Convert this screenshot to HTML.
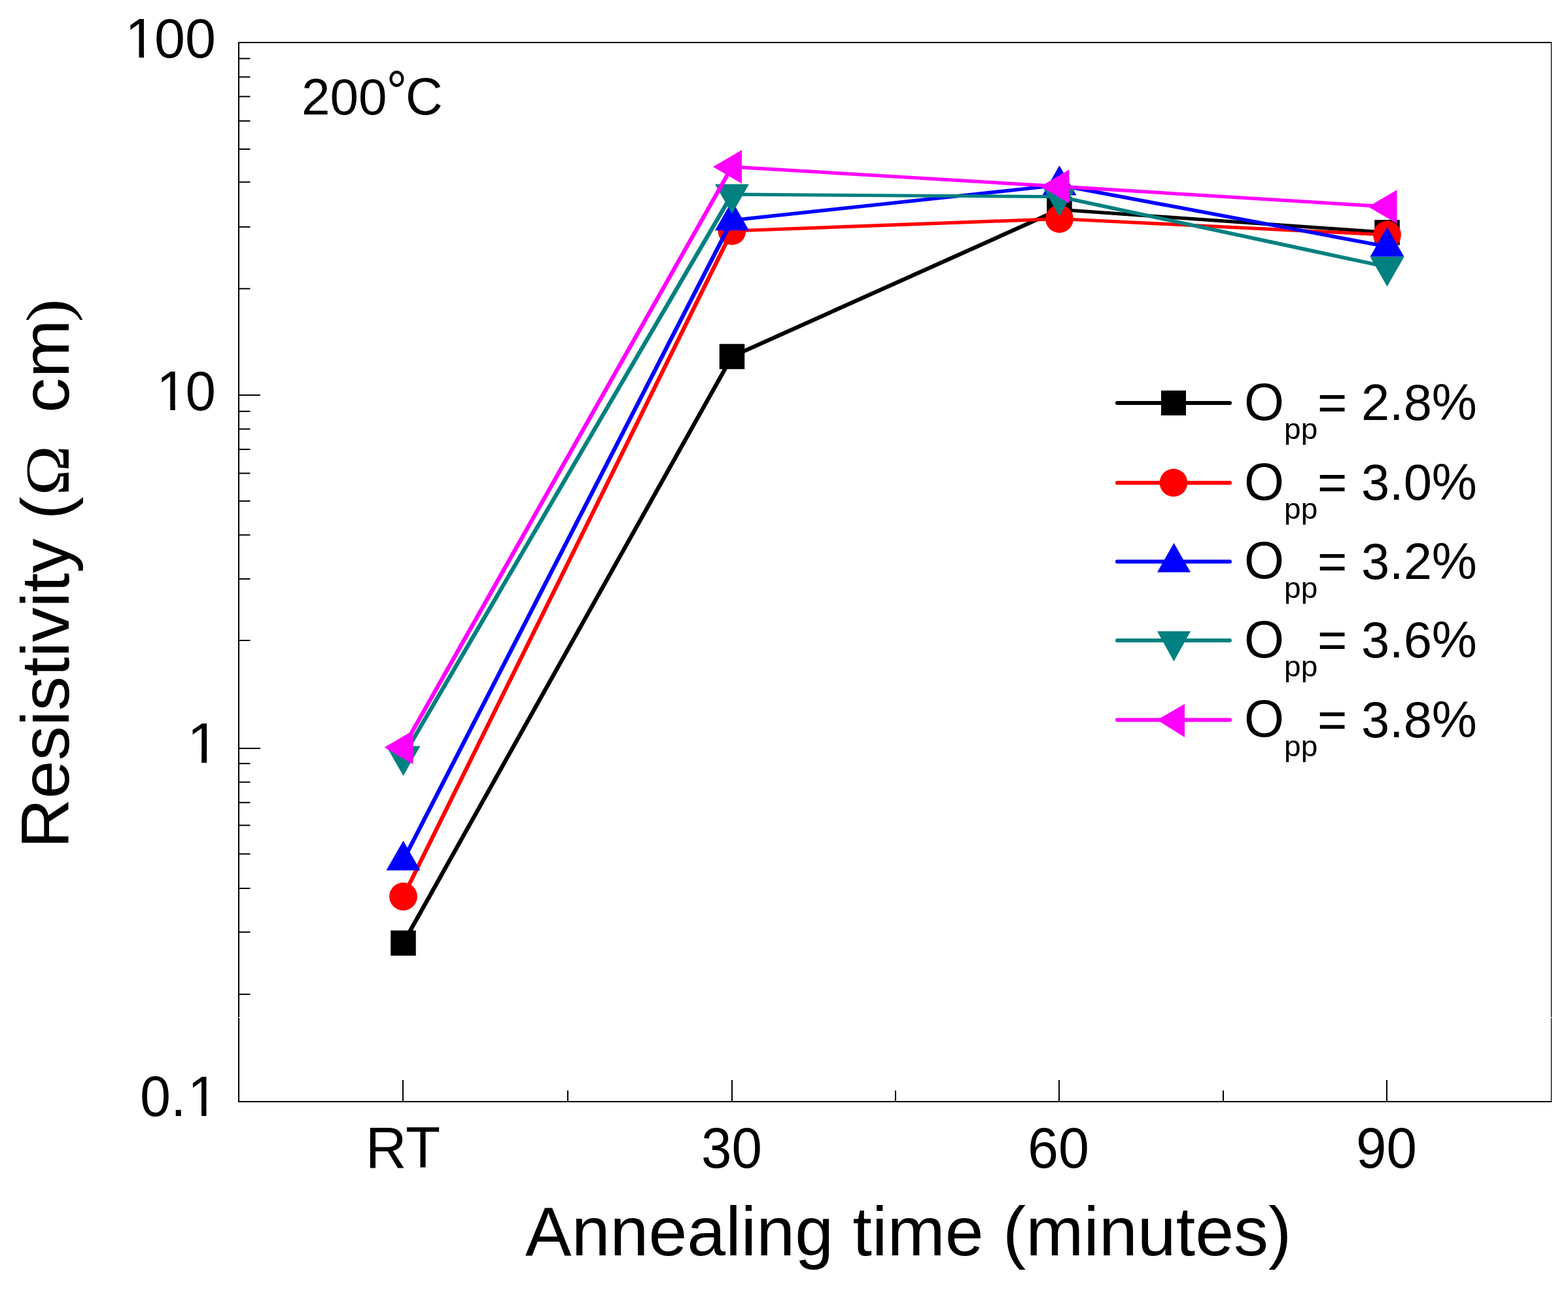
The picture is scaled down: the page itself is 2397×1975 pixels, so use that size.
<!DOCTYPE html>
<html><head><meta charset="utf-8"><title>Resistivity vs annealing time</title>
<style>
html,body{margin:0;padding:0;background:#fff;}
body{width:2397px;height:1975px;overflow:hidden;}
svg{display:block;}
text{fill:#000;}
</style></head>
<body>
<svg width="2397" height="1975" viewBox="0 0 2397 1975">
<rect width="2397" height="1975" fill="#fff"/>
<line x1="364" y1="65" x2="2371" y2="65" stroke="#000" stroke-width="2"/>
<line x1="364" y1="1684" x2="2371" y2="1684" stroke="#000" stroke-width="2"/>
<line x1="365" y1="64" x2="365" y2="1685" stroke="#000" stroke-width="2"/>
<line x1="2371.5" y1="64" x2="2371.5" y2="1685" stroke="#000" stroke-width="1.3"/>
<line x1="365" y1="603.90" x2="398" y2="603.90" stroke="#000" stroke-width="2"/>
<line x1="365" y1="1143.90" x2="398" y2="1143.90" stroke="#000" stroke-width="2"/>
<line x1="365" y1="89.50" x2="382.5" y2="89.50" stroke="#000" stroke-width="2"/>
<line x1="365" y1="117.60" x2="382.5" y2="117.60" stroke="#000" stroke-width="2"/>
<line x1="365" y1="147.60" x2="382.5" y2="147.60" stroke="#000" stroke-width="2"/>
<line x1="365" y1="184.90" x2="382.5" y2="184.90" stroke="#000" stroke-width="2"/>
<line x1="365" y1="228.00" x2="382.5" y2="228.00" stroke="#000" stroke-width="2"/>
<line x1="365" y1="278.40" x2="382.5" y2="278.40" stroke="#000" stroke-width="2"/>
<line x1="365" y1="346.90" x2="382.5" y2="346.90" stroke="#000" stroke-width="2"/>
<line x1="365" y1="441.30" x2="382.5" y2="441.30" stroke="#000" stroke-width="2"/>
<line x1="365" y1="628.80" x2="382.5" y2="628.80" stroke="#000" stroke-width="2"/>
<line x1="365" y1="655.80" x2="382.5" y2="655.80" stroke="#000" stroke-width="2"/>
<line x1="365" y1="686.90" x2="382.5" y2="686.90" stroke="#000" stroke-width="2"/>
<line x1="365" y1="723.50" x2="382.5" y2="723.50" stroke="#000" stroke-width="2"/>
<line x1="365" y1="765.90" x2="382.5" y2="765.90" stroke="#000" stroke-width="2"/>
<line x1="365" y1="817.70" x2="382.5" y2="817.70" stroke="#000" stroke-width="2"/>
<line x1="365" y1="885.00" x2="382.5" y2="885.00" stroke="#000" stroke-width="2"/>
<line x1="365" y1="979.00" x2="382.5" y2="979.00" stroke="#000" stroke-width="2"/>
<line x1="365" y1="1167.20" x2="382.5" y2="1167.20" stroke="#000" stroke-width="2"/>
<line x1="365" y1="1195.60" x2="382.5" y2="1195.60" stroke="#000" stroke-width="2"/>
<line x1="365" y1="1226.80" x2="382.5" y2="1226.80" stroke="#000" stroke-width="2"/>
<line x1="365" y1="1261.60" x2="382.5" y2="1261.60" stroke="#000" stroke-width="2"/>
<line x1="365" y1="1305.40" x2="382.5" y2="1305.40" stroke="#000" stroke-width="2"/>
<line x1="365" y1="1358.00" x2="382.5" y2="1358.00" stroke="#000" stroke-width="2"/>
<line x1="365" y1="1424.80" x2="382.5" y2="1424.80" stroke="#000" stroke-width="2"/>
<line x1="365" y1="1519.90" x2="382.5" y2="1519.90" stroke="#000" stroke-width="2"/>
<line x1="365" y1="65" x2="398" y2="65" stroke="#000" stroke-width="2"/>
<line x1="616" y1="1684" x2="616" y2="1651" stroke="#000" stroke-width="2"/>
<line x1="1119" y1="1684" x2="1119" y2="1651" stroke="#000" stroke-width="2"/>
<line x1="1619" y1="1684" x2="1619" y2="1651" stroke="#000" stroke-width="2"/>
<line x1="2120" y1="1684" x2="2120" y2="1651" stroke="#000" stroke-width="2"/>
<line x1="868" y1="1684" x2="868" y2="1667" stroke="#000" stroke-width="2"/>
<line x1="1369" y1="1684" x2="1369" y2="1667" stroke="#000" stroke-width="2"/>
<line x1="1870" y1="1684" x2="1870" y2="1667" stroke="#000" stroke-width="2"/>
<g transform="matrix(1.0000 0 0 1.0167 189.00 87.98)"><clipPath id="c1_1"><path clip-rule="evenodd" d="M-500,-500H2500V500H-500Z M6.395,-7.913 L22.318,-7.913 L22.318,-6.313 L23.518,-6.313 L23.518,1.600 L6.395,1.600Z M32.186,-7.913 L47.201,-7.913 L47.201,1.600 L30.986,1.600 L30.986,-6.313 L32.186,-6.313Z"/></clipPath><text x="0" y="0" font-size="84.5" clip-path="url(#c1_1)" style="font-family:'Liberation Sans', Arial, sans-serif"><tspan x="2.269">1</tspan><tspan x="46.995">0</tspan><tspan x="93.990">0</tspan></text></g>
<g transform="matrix(0.9877 0 0 1.0167 237.12 626.98)"><clipPath id="c1_2"><path clip-rule="evenodd" d="M-500,-500H2500V500H-500Z M6.395,-7.913 L22.318,-7.913 L22.318,-6.313 L23.518,-6.313 L23.518,1.600 L6.395,1.600Z M32.186,-7.913 L47.201,-7.913 L47.201,1.600 L30.986,1.600 L30.986,-6.313 L32.186,-6.313Z"/></clipPath><text x="0" y="0" font-size="84.5" clip-path="url(#c1_2)" style="font-family:'Liberation Sans', Arial, sans-serif"><tspan x="2.269">1</tspan><tspan x="46.995">0</tspan></text></g>
<g transform="matrix(1.0476 0 0 1.0339 283.52 1166.00)"><clipPath id="c1_3"><path clip-rule="evenodd" d="M-500,-500H2500V500H-500Z M6.395,-7.913 L22.318,-7.913 L22.318,-6.313 L23.518,-6.313 L23.518,1.600 L6.395,1.600Z M32.186,-7.913 L47.201,-7.913 L47.201,1.600 L30.986,1.600 L30.986,-6.313 L32.186,-6.313Z"/></clipPath><text x="0" y="0" font-size="84.5" clip-path="url(#c1_3)" style="font-family:'Liberation Sans', Arial, sans-serif"><tspan x="2.269">1</tspan></text></g>
<g transform="matrix(1.0000 0 0 1.0333 214.00 1705.97)"><clipPath id="c1_4"><path clip-rule="evenodd" d="M-500,-500H2500V500H-500Z M76.867,-7.913 L92.790,-7.913 L92.790,-6.313 L93.990,-6.313 L93.990,1.600 L76.867,1.600Z M102.658,-7.913 L117.673,-7.913 L117.673,1.600 L101.458,1.600 L101.458,-6.313 L102.658,-6.313Z"/></clipPath><text x="0" y="0" font-size="84.5" clip-path="url(#c1_4)" style="font-family:'Liberation Sans', Arial, sans-serif"><tspan x="0.000">0</tspan><tspan x="46.995">.</tspan><tspan x="72.741">1</tspan></text></g>
<g transform="matrix(1.0294 0 0 1.0517 558.79 1785.00)"><text x="0" y="0" font-size="84.5" style="font-family:'Liberation Sans', Arial, sans-serif">RT</text></g>
<g transform="matrix(0.9886 0 0 1.0333 1072.03 1784.97)"><text x="0" y="0" font-size="84.5" style="font-family:'Liberation Sans', Arial, sans-serif">30</text></g>
<g transform="matrix(1.0000 0 0 1.0333 1571.00 1784.97)"><text x="0" y="0" font-size="84.5" style="font-family:'Liberation Sans', Arial, sans-serif">60</text></g>
<g transform="matrix(0.9885 0 0 1.0333 2073.05 1784.97)"><text x="0" y="0" font-size="84.5" style="font-family:'Liberation Sans', Arial, sans-serif">90</text></g>
<g transform="matrix(0.9898 0 0 0.9850 803.01 1918.70)"><text x="0" y="0" font-size="107" style="font-family:'Liberation Sans', Arial, sans-serif">Annealing time (minutes)</text></g>
<g transform="rotate(-90) matrix(1.0025 0 0 0.9850 -1297.02 104.90)"><text x="0" y="0" font-size="105" style="font-family:'Liberation Sans', Arial, sans-serif">Resistivity (</text></g>
<g transform="rotate(-90) matrix(0.9809 0 0 0.9143 -757.60 104.90)"><text x="0" y="0" font-size="105" style="font-family:'Liberation Serif', 'Times New Roman', serif">Ω</text></g>
<g transform="rotate(-90) matrix(1.0171 0 0 0.9700 -630.97 104.90)"><text x="0" y="0" font-size="105" style="font-family:'Liberation Sans', Arial, sans-serif">cm</text></g>
<g transform="rotate(-90) matrix(1.0222 0 0 0.9147 -492.47 105.68)"><text x="0" y="0" font-size="105" style="font-family:'Liberation Serif', 'Times New Roman', serif">)</text></g>
<g transform="matrix(1.0164 0 0 1.0000 460.93 175.00)"><text x="0" y="0" font-size="77" style="font-family:'Liberation Sans', Arial, sans-serif">200</text></g>
<g transform="matrix(1.3125 0 0 1.4706 590.75 169.76)"><text x="0" y="0" font-size="60" style="font-family:'Liberation Sans', Arial, sans-serif">&#176;</text></g>
<g transform="matrix(1.0208 0 0 1.0364 619.92 174.96)"><text x="0" y="0" font-size="77" style="font-family:'Liberation Sans', Arial, sans-serif">C</text></g>
<line x1="616.5" y1="1441.6" x2="1119" y2="545" stroke="#000000" stroke-width="6.34"/>
<line x1="1119" y1="545" x2="1619.5" y2="320.3" stroke="#000000" stroke-width="6.18"/>
<line x1="1619.5" y1="320.3" x2="2120.5" y2="355.4" stroke="#000000" stroke-width="5.30"/>
<rect x="597.25" y="1422.35" width="38.5" height="38.5" fill="#000000"/>
<rect x="1099.75" y="525.75" width="38.5" height="38.5" fill="#000000"/>
<rect x="1600.25" y="301.05" width="38.5" height="38.5" fill="#000000"/>
<rect x="2101.25" y="336.15" width="38.5" height="38.5" fill="#000000"/>
<line x1="616.5" y1="1370.4" x2="1119" y2="353" stroke="#FF0000" stroke-width="6.25"/>
<line x1="1119" y1="353" x2="1619.5" y2="334.5" stroke="#FF0000" stroke-width="5.21"/>
<line x1="1619.5" y1="334.5" x2="2120.5" y2="359" stroke="#FF0000" stroke-width="5.24"/>
<circle cx="616.5" cy="1370.4" r="21.4" fill="#FF0000"/>
<circle cx="1119" cy="353" r="21.4" fill="#FF0000"/>
<circle cx="1619.5" cy="334.5" r="21.4" fill="#FF0000"/>
<circle cx="2120.5" cy="359" r="21.4" fill="#FF0000"/>
<line x1="616.5" y1="1315" x2="1119" y2="336.7" stroke="#0000FF" stroke-width="6.28"/>
<line x1="1119" y1="336.7" x2="1619.5" y2="282.9" stroke="#0000FF" stroke-width="5.41"/>
<line x1="1619.5" y1="282.9" x2="2120.5" y2="377" stroke="#0000FF" stroke-width="5.63"/>
<polygon points="616.50,1285.00 642.50,1330.50 590.50,1330.50" fill="#0000FF"/>
<polygon points="1119.00,306.70 1145.00,352.20 1093.00,352.20" fill="#0000FF"/>
<polygon points="1619.50,252.90 1645.50,298.40 1593.50,298.40" fill="#0000FF"/>
<polygon points="2120.50,347.00 2146.50,392.50 2094.50,392.50" fill="#0000FF"/>
<line x1="616.5" y1="1156" x2="1119" y2="297.1" stroke="#008080" stroke-width="6.36"/>
<line x1="1119" y1="297.1" x2="1619.5" y2="300.7" stroke="#008080" stroke-width="5.12"/>
<line x1="1619.5" y1="300.7" x2="2120.5" y2="408" stroke="#008080" stroke-width="5.69"/>
<polygon points="590.50,1140.50 642.50,1140.50 616.50,1186.00" fill="#008080"/>
<polygon points="1093.00,281.60 1145.00,281.60 1119.00,327.10" fill="#008080"/>
<polygon points="1593.50,285.20 1645.50,285.20 1619.50,330.70" fill="#008080"/>
<polygon points="2094.50,392.50 2146.50,392.50 2120.50,438.00" fill="#008080"/>
<line x1="616.5" y1="1142.5" x2="1119" y2="255" stroke="#FF00FF" stroke-width="6.34"/>
<line x1="1119" y1="255" x2="1619.5" y2="285" stroke="#FF00FF" stroke-width="5.27"/>
<line x1="1619.5" y1="285" x2="2120.5" y2="316" stroke="#FF00FF" stroke-width="5.28"/>
<polygon points="587.50,1142.50 631.50,1116.70 631.50,1168.30" fill="#FF00FF"/>
<polygon points="1090.00,255.00 1134.00,229.20 1134.00,280.80" fill="#FF00FF"/>
<polygon points="1590.50,285.00 1634.50,259.20 1634.50,310.80" fill="#FF00FF"/>
<polygon points="2091.50,316.00 2135.50,290.20 2135.50,341.80" fill="#FF00FF"/>
<line x1="1708" y1="616.00" x2="1880" y2="616.00" stroke="#000000" stroke-width="6" stroke-linecap="round"/>
<rect x="1775" y="597" width="38" height="38" fill="#000000"/>
<g transform="matrix(1.0192 0 0 1.0364 1901.92 641.96)"><text x="0" y="0" font-size="77" style="font-family:'Liberation Sans', Arial, sans-serif">O</text></g>
<g transform="matrix(0.9583 0 0 0.9167 1963.12 671.33)"><text x="0" y="0" font-size="48" style="font-family:'Liberation Sans', Arial, sans-serif">pp</text></g>
<g transform="matrix(1.0085 0 0 1.0000 2013.97 642.00)"><text x="0" y="0" font-size="77" style="font-family:'Liberation Sans', Arial, sans-serif">= 2.8%</text></g>
<line x1="1708" y1="738.00" x2="1880" y2="738.00" stroke="#FF0000" stroke-width="6" stroke-linecap="round"/>
<circle cx="1794" cy="737.9" r="21.3" fill="#FF0000"/>
<g transform="matrix(1.0192 0 0 1.0364 1901.92 763.96)"><text x="0" y="0" font-size="77" style="font-family:'Liberation Sans', Arial, sans-serif">O</text></g>
<g transform="matrix(0.9583 0 0 0.9167 1963.12 793.33)"><text x="0" y="0" font-size="48" style="font-family:'Liberation Sans', Arial, sans-serif">pp</text></g>
<g transform="matrix(1.0085 0 0 1.0000 2013.97 764.00)"><text x="0" y="0" font-size="77" style="font-family:'Liberation Sans', Arial, sans-serif">= 3.0%</text></g>
<line x1="1708" y1="858.50" x2="1880" y2="858.50" stroke="#0000FF" stroke-width="6" stroke-linecap="round"/>
<polygon points="1794.5,829.9 1820,874.8 1769,874.8" fill="#0000FF"/>
<g transform="matrix(1.0192 0 0 1.0364 1901.92 884.46)"><text x="0" y="0" font-size="77" style="font-family:'Liberation Sans', Arial, sans-serif">O</text></g>
<g transform="matrix(0.9583 0 0 0.9167 1963.12 913.83)"><text x="0" y="0" font-size="48" style="font-family:'Liberation Sans', Arial, sans-serif">pp</text></g>
<g transform="matrix(1.0085 0 0 1.0000 2013.97 884.50)"><text x="0" y="0" font-size="77" style="font-family:'Liberation Sans', Arial, sans-serif">= 3.2%</text></g>
<line x1="1708" y1="979.00" x2="1880" y2="979.00" stroke="#008080" stroke-width="6" stroke-linecap="round"/>
<polygon points="1769,965 1820.1,965 1794.5,1011.1" fill="#008080"/>
<g transform="matrix(1.0192 0 0 1.0364 1901.92 1004.96)"><text x="0" y="0" font-size="77" style="font-family:'Liberation Sans', Arial, sans-serif">O</text></g>
<g transform="matrix(0.9583 0 0 0.9167 1963.12 1034.33)"><text x="0" y="0" font-size="48" style="font-family:'Liberation Sans', Arial, sans-serif">pp</text></g>
<g transform="matrix(1.0085 0 0 1.0000 2013.97 1005.00)"><text x="0" y="0" font-size="77" style="font-family:'Liberation Sans', Arial, sans-serif">= 3.6%</text></g>
<line x1="1708" y1="1100.50" x2="1880" y2="1100.50" stroke="#FF00FF" stroke-width="6" stroke-linecap="round"/>
<polygon points="1768.9,1100.5 1811,1075.9 1811,1127.1" fill="#FF00FF"/>
<g transform="matrix(1.0192 0 0 1.0364 1901.92 1126.46)"><text x="0" y="0" font-size="77" style="font-family:'Liberation Sans', Arial, sans-serif">O</text></g>
<g transform="matrix(0.9583 0 0 0.9167 1963.12 1155.83)"><text x="0" y="0" font-size="48" style="font-family:'Liberation Sans', Arial, sans-serif">pp</text></g>
<g transform="matrix(1.0085 0 0 1.0000 2013.97 1126.50)"><text x="0" y="0" font-size="77" style="font-family:'Liberation Sans', Arial, sans-serif">= 3.8%</text></g>
<rect x="0" y="1555" width="2397" height="1" fill="#fff"/>
</svg>
</body></html>
